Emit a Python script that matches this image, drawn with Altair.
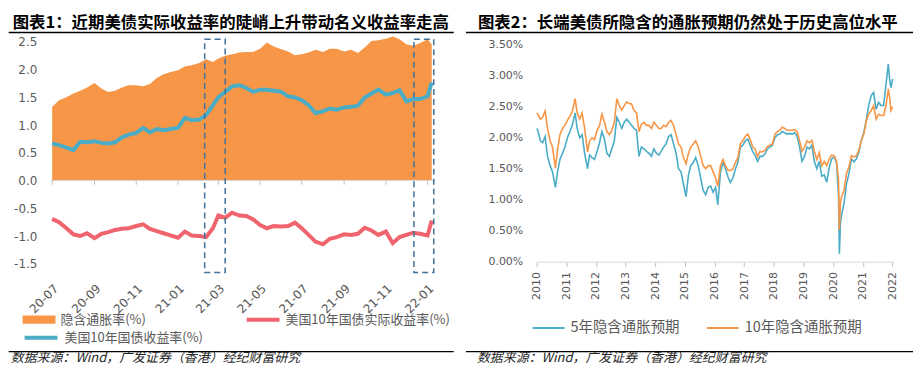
import altair as alt
import pandas as pd

CJK = "Noto Sans CJK SC"
NUM = "DejaVu Sans"
GRAY = "#595959"

# ---------------- Figure 1 data ----------------
left_dates = [
    "2020-07-01", "2020-07-11", "2020-07-21", "2020-08-01", "2020-08-11", "2020-08-21",
    "2020-09-01", "2020-09-11", "2020-09-21", "2020-10-01", "2020-10-11", "2020-10-21",
    "2020-11-01", "2020-11-11", "2020-11-21", "2020-12-01", "2020-12-11", "2020-12-21",
    "2021-01-01", "2021-01-11", "2021-01-21", "2021-02-01", "2021-02-11", "2021-02-21",
    "2021-03-01", "2021-03-11", "2021-03-21", "2021-04-01", "2021-04-11", "2021-04-21",
    "2021-05-01", "2021-05-11", "2021-05-21", "2021-06-01", "2021-06-11", "2021-06-21",
    "2021-07-01", "2021-07-11", "2021-07-21", "2021-08-01", "2021-08-11", "2021-08-21",
    "2021-09-01", "2021-09-11", "2021-09-21", "2021-10-01", "2021-10-11", "2021-10-21",
    "2021-11-01", "2021-11-11", "2021-11-21", "2021-12-01", "2021-12-11", "2021-12-21",
    "2022-01-01", "2022-01-07",
]
breakeven = [1.33, 1.45, 1.50, 1.57, 1.62, 1.68, 1.76, 1.66, 1.60, 1.62, 1.68, 1.72,
             1.72, 1.70, 1.74, 1.85, 1.92, 1.96, 1.99, 2.06, 2.08, 2.12, 2.19, 2.14,
             2.20, 2.25, 2.28, 2.31, 2.32, 2.32, 2.38, 2.49, 2.42, 2.37, 2.33, 2.26,
             2.28, 2.31, 2.36, 2.32, 2.38, 2.38, 2.33, 2.36, 2.30, 2.40, 2.52, 2.53,
             2.56, 2.60, 2.55, 2.46, 2.43, 2.48, 2.55, 2.46]
nominal = [0.67, 0.64, 0.60, 0.55, 0.70, 0.69, 0.71, 0.68, 0.67, 0.69, 0.78, 0.83,
           0.86, 0.95, 0.87, 0.93, 0.91, 0.93, 0.95, 1.13, 1.09, 1.10, 1.18, 1.36,
           1.50, 1.60, 1.70, 1.72, 1.67, 1.60, 1.64, 1.64, 1.62, 1.60, 1.52, 1.50,
           1.45, 1.36, 1.22, 1.25, 1.30, 1.28, 1.32, 1.33, 1.35, 1.50, 1.57, 1.64,
           1.55, 1.58, 1.63, 1.43, 1.47, 1.47, 1.52, 1.77]
real = [-0.69, -0.75, -0.85, -0.97, -1.00, -0.95, -1.04, -0.96, -0.93, -0.89, -0.87, -0.86,
        -0.82, -0.79, -0.87, -0.91, -0.95, -0.99, -1.03, -0.92, -0.99, -1.00, -1.02, -0.86,
        -0.63, -0.67, -0.58, -0.63, -0.64, -0.70, -0.80, -0.86, -0.82, -0.83, -0.82, -0.76,
        -0.86, -0.98, -1.10, -1.15, -1.05, -1.02, -0.97, -0.98, -0.96, -0.85, -0.90, -0.98,
        -0.92, -1.13, -1.02, -0.98, -0.94, -0.96, -0.99, -0.72]
left_ticks = ["2020-07-01", "2020-09-01", "2020-11-01", "2021-01-01", "2021-03-01",
              "2021-05-01", "2021-07-01", "2021-09-01", "2021-11-01", "2022-01-01"]
left_yticks = [-1.5, -1.0, -0.5, 0.0, 0.5, 1.0, 1.5, 2.0, 2.5]
box_start = ["2021-02-09", "2021-12-12"]
box_end = ["2021-03-11", "2022-01-10"]
box_top = [2.55, 2.55]
box_bottom = [-1.66, -1.66]

name_be = "隐含通胀率(%)"
name_real = "美国10年国债实际收益率(%)"
name_nom = "美国10年国债收益率(%)"
title1 = "图表1：近期美债实际收益率的陡峭上升带动名义收益率走高"

# ---------------- Figure 2 data ----------------
def monthly(year):
    return [f"{year}-{m:02d}-15" for m in range(1, 13)]

right_dates = (
    ["2010-01-04", "2010-01-15", "2010-02-15", "2010-03-15", "2010-04-15", "2010-05-15",
     "2010-06-15", "2010-07-15", "2010-08-20", "2010-09-15", "2010-10-15", "2010-11-15", "2010-12-15"]
    + ["2011-01-15", "2011-02-15", "2011-03-15", "2011-04-20", "2011-05-15", "2011-06-15",
       "2011-07-15", "2011-08-15", "2011-09-20", "2011-10-15", "2011-11-15", "2011-12-15"]
    + monthly(2012) + monthly(2013) + monthly(2014) + monthly(2015)
    + ["2016-01-15", "2016-02-11", "2016-03-15", "2016-04-15", "2016-05-15", "2016-06-15",
       "2016-07-15", "2016-08-15", "2016-09-15", "2016-10-15", "2016-11-15", "2016-12-15"]
    + monthly(2017) + monthly(2018) + monthly(2019)
    + ["2020-01-15", "2020-02-15", "2020-03-09", "2020-03-19", "2020-04-01", "2020-04-15",
       "2020-05-15", "2020-06-15", "2020-07-15", "2020-08-15", "2020-09-15", "2020-10-15",
       "2020-11-15", "2020-12-15"]
    + ["2021-01-15", "2021-02-15", "2021-03-15", "2021-04-15", "2021-05-15", "2021-06-15",
       "2021-07-15", "2021-08-15", "2021-09-15", "2021-10-15", "2021-11-12", "2021-11-30",
       "2021-12-15", "2022-01-05"]
)
be10 = [
    2.40, 2.38, 2.30, 2.33, 2.43, 2.15, 1.95, 1.85, 1.51, 1.80, 2.05, 2.15, 2.20,
    2.28, 2.35, 2.42, 2.63, 2.40, 2.30, 2.40, 2.15, 1.77, 1.95, 2.00, 1.97,
    2.12, 2.20, 2.38, 2.25, 2.10, 2.05, 2.12, 2.25, 2.63, 2.52, 2.45, 2.52,
    2.58, 2.55, 2.55, 2.44, 2.40, 2.10, 2.22, 2.25, 2.20, 2.20, 2.15, 2.25,
    2.20, 2.15, 2.15, 2.20, 2.18, 2.25, 2.28, 2.20, 2.05, 1.90, 1.85, 1.68,
    1.58, 1.75, 1.85, 1.90, 1.95, 1.85, 1.70, 1.55, 1.50, 1.55, 1.55, 1.45,
    1.35, 1.22, 1.55, 1.65, 1.55, 1.48, 1.47, 1.50, 1.60, 1.68, 1.90, 1.95,
    2.02, 2.06, 1.98, 1.85, 1.82, 1.70, 1.78, 1.77, 1.80, 1.86, 1.88, 1.90,
    2.06, 2.10, 2.12, 2.17, 2.15, 2.12, 2.12, 2.12, 2.13, 2.10, 1.95, 1.78,
    1.85, 1.95, 1.92, 1.96, 1.78, 1.65, 1.76, 1.55, 1.62, 1.55, 1.66, 1.72,
    1.71, 1.61, 1.31, 0.51, 0.94, 1.05, 1.15, 1.42, 1.53, 1.71, 1.69, 1.71, 1.80, 1.96,
    2.06, 2.28, 2.38, 2.44, 2.52, 2.30, 2.38, 2.36, 2.36, 2.52, 2.79, 2.63, 2.44, 2.50,
]
be5 = [
    2.15, 2.12, 1.95, 1.92, 2.02, 1.70, 1.55, 1.45, 1.20, 1.45, 1.65, 1.75, 1.85,
    2.00, 2.10, 2.20, 2.40, 2.15, 2.00, 2.05, 1.75, 1.50, 1.72, 1.68, 1.65,
    1.78, 1.92, 2.10, 1.98, 1.75, 1.70, 1.82, 1.95, 2.33, 2.25, 2.15, 2.25,
    2.30, 2.25, 2.20, 2.15, 2.12, 1.70, 1.85, 1.82, 1.78, 1.75, 1.70, 1.82,
    1.75, 1.72, 1.78, 1.85, 1.90, 2.02, 2.05, 1.90, 1.75, 1.50, 1.45, 1.25,
    1.05, 1.40, 1.55, 1.60, 1.68, 1.55, 1.35, 1.15, 1.08, 1.20, 1.22, 1.12,
    1.20, 0.92, 1.45, 1.60, 1.50, 1.37, 1.28, 1.35, 1.50, 1.60, 1.85, 1.88,
    1.95, 1.98, 1.88, 1.78, 1.72, 1.62, 1.70, 1.70, 1.74, 1.82, 1.85, 1.88,
    2.00, 2.05, 2.06, 2.10, 2.08, 2.06, 2.07, 2.06, 2.08, 2.03, 1.85, 1.62,
    1.70, 1.85, 1.82, 1.88, 1.62, 1.50, 1.62, 1.38, 1.40, 1.28, 1.52, 1.66,
    1.69, 1.58, 1.05, 0.13, 0.62, 0.75, 0.94, 1.26, 1.42, 1.66, 1.61, 1.66, 1.77, 1.96,
    2.09, 2.30, 2.52, 2.68, 2.73, 2.46, 2.57, 2.52, 2.52, 2.87, 3.19, 2.92, 2.81, 2.95,
]
right_years = list(range(2010, 2023))
right_yticks = [0.0, 0.5, 1.0, 1.5, 2.0, 2.5, 3.0, 3.5]
name5 = "5年隐含通胀预期"
name10 = "10年隐含通胀预期"
title2 = "图表2：长端美债所隐含的通胀预期仍然处于历史高位水平"
source = "数据来源：Wind，广发证券（香港）经纪财富研究"

# ---------------- helpers ----------------
def dt(s):
    y, m, d = s.split("-")
    return alt.DateTime(year=int(y), month=int(m), date=int(d))


def leg(x, y, shape, sw, offset, size=1089, fs=13, **kw):
    return alt.Legend(title=None, orient="none", legendX=x, legendY=y, symbolType=shape,
                      symbolSize=size, symbolStrokeWidth=sw, labelOffset=offset, padding=0,
                      labelFont=CJK, labelFontSize=fs, labelColor=GRAY, labelLimit=400, **kw)


TOP = -24.7      # top of each panel (relative to plot origin)
TITLE_Y = -18.2
RULE_TOP = -1.2
RULE_BOT = 319.3
SOURCE_Y = 325.8


def deco(title, tx, rx1, rx2, sx):
    frame = alt.Chart(pd.DataFrame({"a": [0]})).mark_rule(color="white", opacity=0).encode(
        x=alt.value(rx1), x2=alt.value(rx2), y=alt.value(TOP))
    t = alt.Chart(pd.DataFrame({"t": [title]})).mark_text(
        align="left", baseline="top", font=CJK, fontSize=16.5, fontWeight="bold", color="black"
    ).encode(x=alt.value(tx), y=alt.value(TITLE_Y), text="t:N")
    line_top = alt.Chart(pd.DataFrame({"a": [0]})).mark_rule(color="black", strokeWidth=1.3).encode(
        x=alt.value(rx1), x2=alt.value(rx2), y=alt.value(RULE_TOP))
    line_bot = alt.Chart(pd.DataFrame({"a": [0]})).mark_rule(color="black", strokeWidth=1.3).encode(
        x=alt.value(rx1), x2=alt.value(rx2), y=alt.value(RULE_BOT))
    s = alt.Chart(pd.DataFrame({"t": [source]})).mark_text(
        align="left", baseline="middle", font=CJK, fontSize=13, fontStyle="italic", color="#262626"
    ).encode(x=alt.value(sx), y=alt.value(SOURCE_Y), text="t:N")
    return [frame, t, line_top, line_bot, s]


# ---------------- left chart ----------------
W1, H1 = 386, 245
ld = pd.to_datetime(left_dates)
df_be = pd.DataFrame({"date": ld, "v": breakeven, "series": name_be})
df_nom = pd.DataFrame({"date": ld, "v": nominal, "series": name_nom})
df_real = pd.DataFrame({"date": ld, "v": real, "series": name_real})
df_ticks = pd.DataFrame({"date": pd.to_datetime(left_ticks), "v": 0.0, "v2": -0.075})
df_zero = pd.DataFrame({"v": [0.0]})
df_box = pd.DataFrame({"date": pd.to_datetime(box_start), "date2": pd.to_datetime(box_end),
                       "v": box_top, "v2": box_bottom})

lx = alt.X("date:T", title=None,
           scale=alt.Scale(domain=[dt("2020-06-29"), dt("2022-01-12")]),
           axis=alt.Axis(values=[dt(s) for s in left_ticks], format="%y-%m", labelAngle=-45,
                         domain=False, ticks=False, grid=False, labelPadding=5,
                         labelOverlap=False, labelFlush=False, labelFont=NUM,
                         labelFontSize=12, labelColor=GRAY))
ly = alt.Y("v:Q", title=None,
           scale=alt.Scale(domain=[-1.75, 2.65], nice=False, zero=False),
           axis=alt.Axis(values=left_yticks,
                         labelExpr="replace(format(datum.value, '.1f'), '\u2212', '-')",
                         domain=False, ticks=False, tickSize=0, grid=False, labelPadding=14,
                         labelFont=NUM, labelFontSize=12, labelColor=GRAY))

area = alt.Chart(df_be).mark_area().encode(
    x=lx, y=ly,
    fill=alt.Fill("series:N", scale=alt.Scale(domain=[name_be], range=["#F79646"]),
                  legend=leg(-28.3, 270.8, "M-1,-0.25H1V0.25H-1Z", 0, 5)))
zero = alt.Chart(df_zero).mark_rule(color="#d9d9d9", strokeWidth=1).encode(y=ly)
ticks = alt.Chart(df_ticks).mark_rule(color="#bfbfbf", strokeWidth=1).encode(x=lx, y=ly, y2="v2:Q")
nom_line = alt.Chart(df_nom).mark_line(strokeWidth=4).encode(
    x=lx, y=ly,
    color=alt.Color("series:N", scale=alt.Scale(domain=[name_nom], range=["#4BACC6"]),
                    legend=leg(-28.3, 286.8, "stroke", 4, 5)))
real_line = alt.Chart(df_real).mark_line(strokeWidth=4).encode(
    x=lx, y=ly,
    stroke=alt.Stroke("series:N", scale=alt.Scale(domain=[name_real], range=["#F0646E"]),
                      legend=leg(194.7, 268.8, "stroke", 4, 4)))
boxes = alt.Chart(df_box).mark_rect(fill="transparent", stroke="#41719C", strokeWidth=1.5,
                                    strokeDash=[6, 4]).encode(x=lx, x2="date2:T", y=ly, y2="v2:Q")

left = alt.layer(
    area, zero, ticks, nom_line, real_line, boxes,
    *deco(title1, -38.3, -42.3, 404.7, -40.3)
).properties(width=W1, height=H1)

# ---------------- right chart ----------------
W2, H2 = 358, 229
rd = pd.to_datetime(right_dates)
df_r = pd.concat([
    pd.DataFrame({"date": rd, "v": be5, "series": name5}),
    pd.DataFrame({"date": rd, "v": be10, "series": name10}),
])

rx = alt.X("date:T", title=None,
           scale=alt.Scale(domain=[dt("2010-01-01"), dt("2022-01-10")]),
           axis=alt.Axis(values=[dt(f"{y}-01-01") for y in right_years], format="%Y",
                         labelAngle=-90, domainColor="#d9d9d9", tickColor="#bfbfbf",
                         tickSize=5, labelPadding=5, grid=False, labelOverlap=False,
                         labelFlush=False, labelFont=NUM, labelFontSize=11, labelColor=GRAY))
ry = alt.Y("v:Q", title=None,
           scale=alt.Scale(domain=[0, 3.68], nice=False),
           axis=alt.Axis(values=right_yticks, labelExpr="format(datum.value, '.2f') + '%'",
                         domain=False, ticks=False, tickSize=0, grid=False, labelPadding=14,
                         labelFont=NUM, labelFontSize=11, labelColor=GRAY))

r_lines = alt.Chart(df_r).mark_line(strokeWidth=1.6).encode(
    x=rx, y=ry,
    color=alt.Color("series:N", sort=[name5, name10],
                    scale=alt.Scale(domain=[name5, name10], range=["#4BACC6", "#F79646"]),
                    legend=leg(-5, 278.3, "stroke", 2, 5, size=1024, fs=14.5,
                               direction="horizontal", columnPadding=23)))

right = alt.layer(
    r_lines,
    *deco(title2, -59, -71, 378, -60)
).properties(width=W2, height=H2)

chart = alt.hconcat(left, right, spacing=10).resolve_scale(
    color="independent", fill="independent", stroke="independent"
).resolve_legend(color="independent", fill="independent", stroke="independent").properties(
    padding=0, background="white"
).configure_view(strokeWidth=0)

chart.save("out.html", embed_options={"renderer": "svg", "actions": False})
